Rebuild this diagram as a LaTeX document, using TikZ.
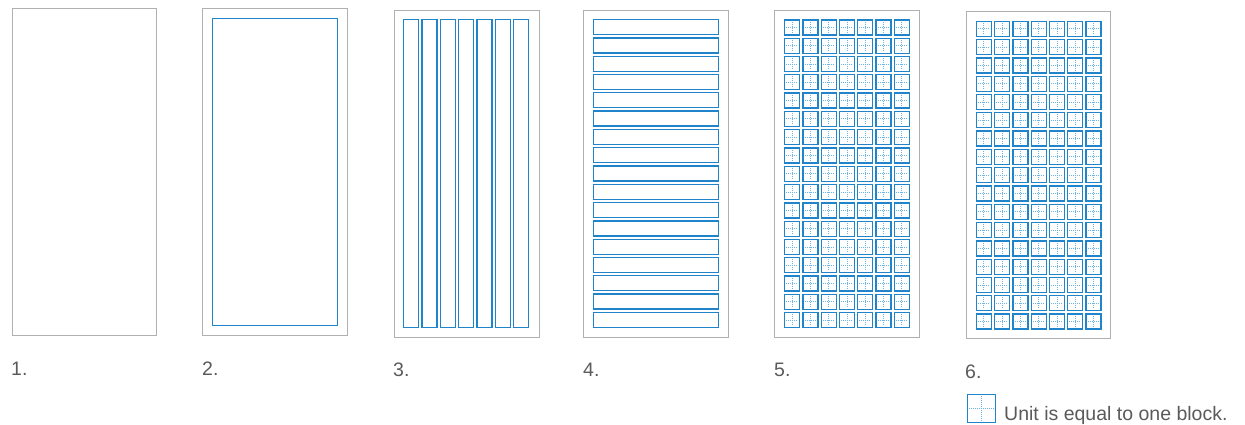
\documentclass[tikz,border=0pt]{standalone}
\usepackage{fontspec}
\setmainfont{Liberation Sans}
\definecolor{framegray}{HTML}{B0B0B0}
\definecolor{gridblue}{HTML}{1F84CA}
\definecolor{lightblue}{HTML}{6AB4E6}
\definecolor{labgray}{HTML}{5A5A5A}
\begin{document}
\begin{tikzpicture}[x=1pt,y=-1pt,
  framebox/.style={draw=framegray,line width=1.2pt},
  bluebox/.style={draw=gridblue,line width=1.35pt},
  crossline/.style={draw=lightblue,line width=0.9pt,dash pattern=on 1pt off 1pt},
  lab/.style={anchor=base west,text=labgray,font=\fontsize{19.5}{23}\selectfont,inner sep=0pt}]
\useasboundingbox (0,0) rectangle (1245,424);
% panel 1
\draw[framebox] (12.5,8.5) rectangle (156.5,335.5);
% panel 2
\draw[framebox] (202.5,8.5) rectangle (347.5,335.5);
\draw[bluebox] (212.8,18.8) rectangle (337.6,325.6);
% panel 3
\draw[framebox] (394.5,10.5) rectangle (539.5,337.5);
\foreach \i in {0,...,6}{
  \pgfmathsetmacro\xx{403.6+\i*18.35}
  \draw[bluebox] (\xx,19.6) rectangle ++(15,308.2);
}
% panel 4
\draw[framebox] (583.5,10.5) rectangle (728.5,337.5);
\foreach \j in {0,...,16}{
  \pgfmathsetmacro\yy{19.6+\j*18.3}
  \draw[bluebox] (593.6,\yy) rectangle ++(125.2,15);
}
% panel 5
\draw[framebox] (774.5,10.5) rectangle (919.5,337.5);
\foreach \i in {0,...,6}
  \foreach \j in {0,...,16}{
    \pgfmathsetmacro\xx{784.6+\i*18.3}
    \pgfmathsetmacro\yy{19.9+\j*18.3}
    \draw[crossline] (\xx+7.5,\yy+1.6) -- ++(0,11.8);
    \draw[crossline] (\xx+1.6,\yy+7.5) -- ++(11.8,0);
    \draw[bluebox] (\xx,\yy) rectangle ++(15,15);
  }
% panel 6
\draw[framebox] (966.5,11.5) rectangle (1110.5,338.5);
\foreach \i in {0,...,6}
  \foreach \j in {0,...,16}{
    \pgfmathsetmacro\xx{976.3+\i*18.3}
    \pgfmathsetmacro\yy{21.3+\j*18.3}
    \draw[crossline] (\xx+7.5,\yy+1.6) -- ++(0,11.8);
    \draw[crossline] (\xx+1.6,\yy+7.5) -- ++(11.8,0);
    \draw[bluebox] (\xx,\yy) rectangle ++(15,15);
  }
% labels
\node[lab] (l1) at (11,375.5) {1.};
\node[lab] (l2) at (202,375.5) {2.};
\node[lab] (l3) at (393,376.5) {3.};
\node[lab] (l4) at (583,376.5) {4.};
\node[lab] (l5) at (774,376.5) {5.};
\node[lab] (l6) at (965,378) {6.};
% legend
\draw[crossline] (981.5,396) -- (981.5,421);
\draw[crossline] (969,408.5) -- (995,408.5);
\draw[bluebox] (967.5,394.5) rectangle (995.5,422.5);
\node[lab] (legend) at (1004,420) {Unit is equal to one block.};
\end{tikzpicture}
\end{document}
